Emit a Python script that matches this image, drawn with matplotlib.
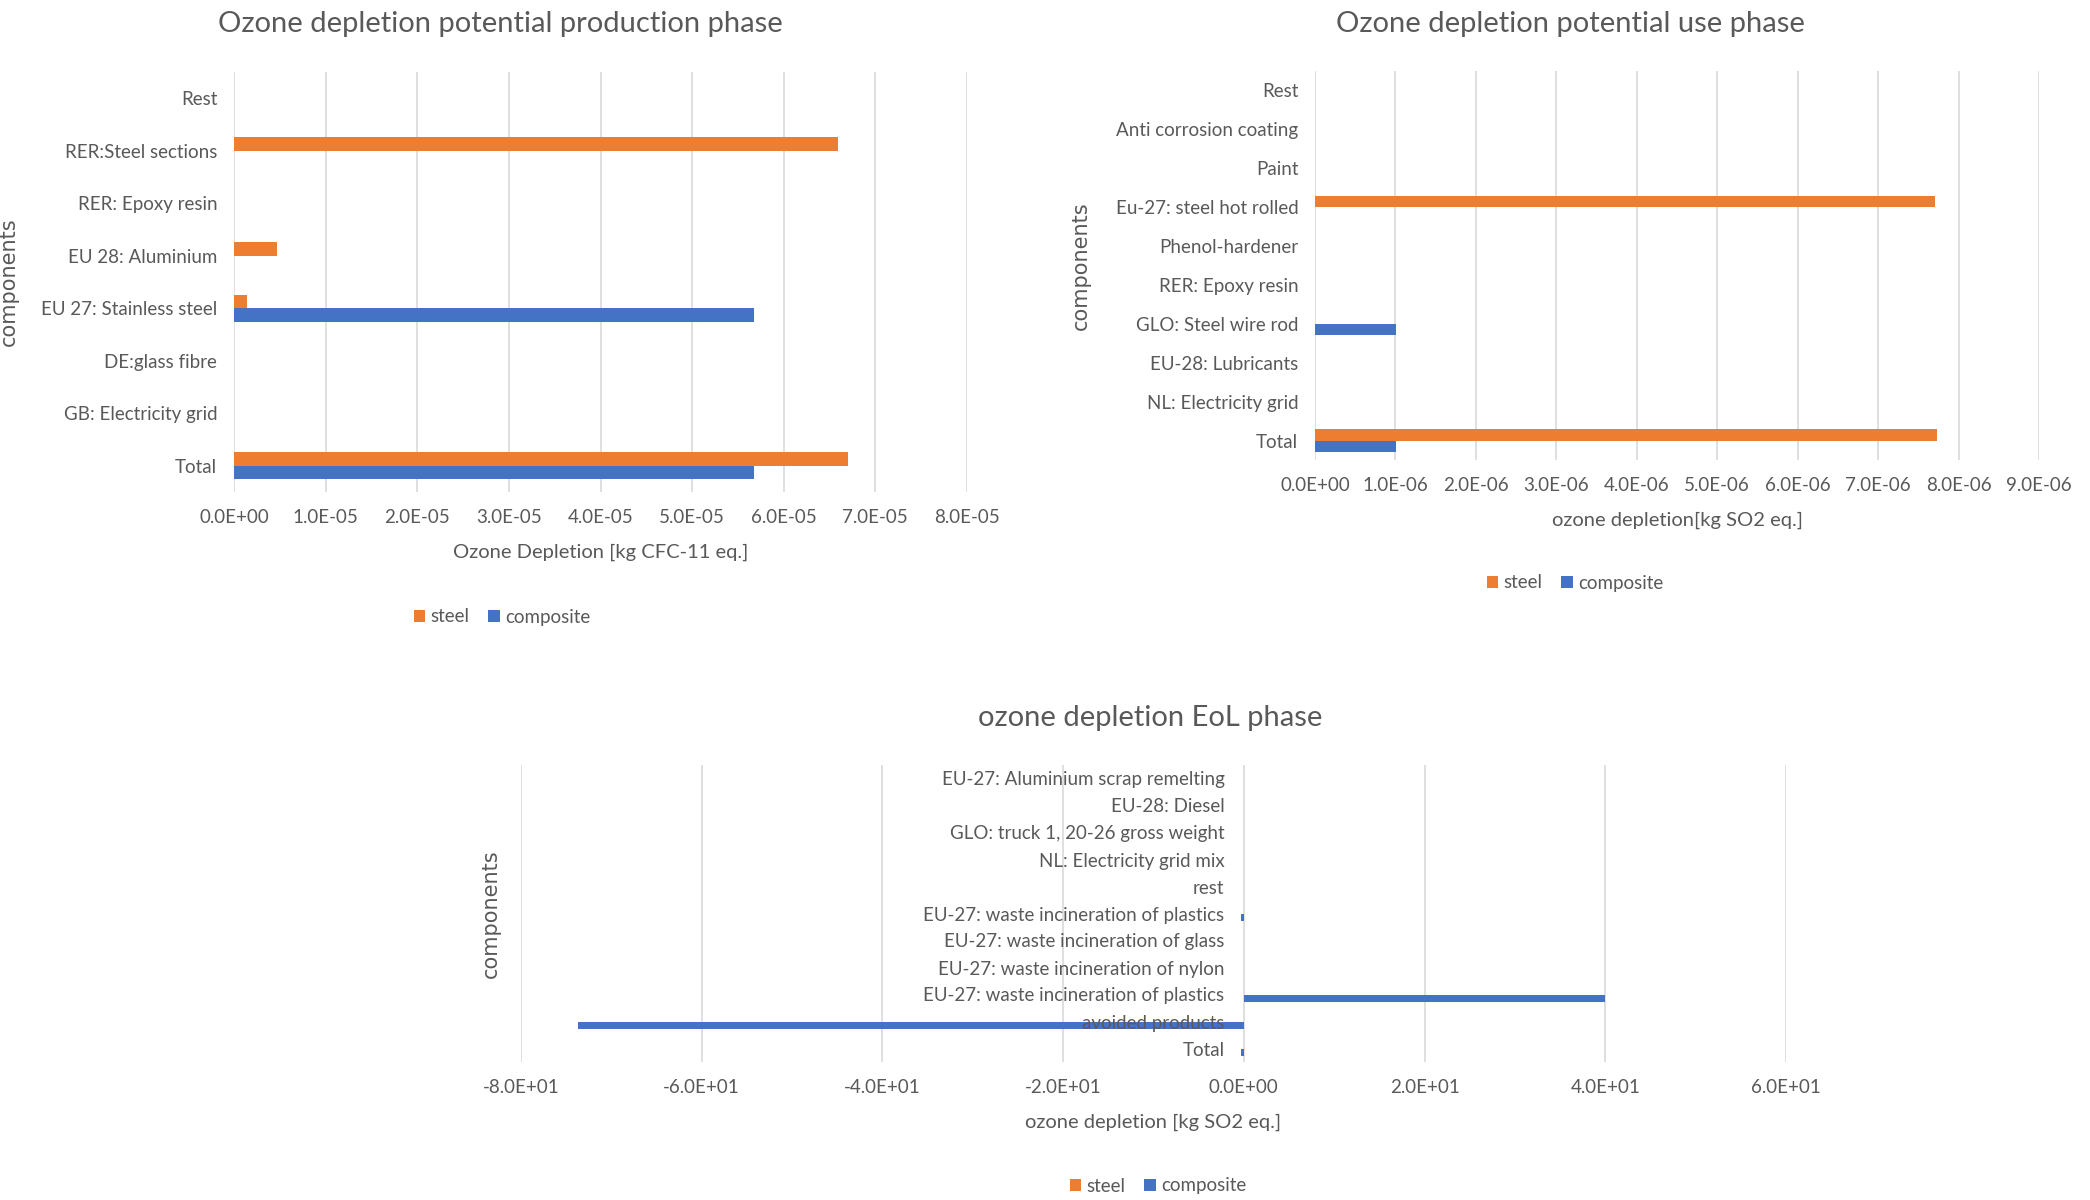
import matplotlib.pyplot as plt
from matplotlib.ticker import FuncFormatter, MultipleLocator

# production phase
prod_categories = ["Total", "GB: Electricity grid", "DE:glass fibre", "EU 27: Stainless steel",
                   "EU 28: Aluminium", "RER: Epoxy resin", "RER:Steel sections", "Rest"]
prod_steel = [6.70e-5, 0, 0, 0.14e-5, 0.47e-5, 0, 6.59e-5, 0]
prod_composite = [5.68e-5, 0, 0, 5.68e-5, 0, 0, 0, 0]

# use phase
use_categories = ["Total", "NL: Electricity grid", "EU-28: Lubricants", "GLO: Steel wire rod",
                  "RER: Epoxy resin", "Phenol-hardener", "Eu-27: steel hot rolled", "Paint",
                  "Anti corrosion coating", "Rest"]
use_steel = [7.73e-6, 0, 0, 0, 0, 0, 7.71e-6, 0, 0, 0]
use_composite = [1.01e-6, 0, 0, 1.01e-6, 0, 0, 0, 0, 0, 0]

# end of life phase
eol_categories = ["Total", "avoided products", "EU-27: waste incineration of plastics",
                  "EU-27: waste incineration of nylon", "EU-27: waste incineration of glass",
                  "EU-27: waste incineration of plastics", "rest", "NL: Electricity grid mix",
                  "GLO: truck 1, 20-26 gross weight", "EU-28: Diesel",
                  "EU-27: Aluminium scrap remelting"]
eol_steel = [0, 0, 0, 0, 0, 0, 0, 0, 0, 0, 0]
eol_composite = [-0.3, -73.7, 40.0, 0, 0, -0.3, 0, 0, 0, 0, 0]

ORANGE = "#ED7D31"
BLUE = "#4472C4"
GREY = "#595959"
GRID = "#D9D9D9"
W, H = 2090, 1200

plt.rcParams["font.family"] = ["Lato", "DejaVu Sans"]

fig = plt.figure(figsize=(W / 100, H / 100), dpi=100)


def px_axes(left, top, right, bottom):
    return fig.add_axes([left / W, 1 - bottom / H, (right - left) / W, (bottom - top) / H])


def sci(v, pos):
    return f"{v:.1E}"


def draw(ax, cats, steel, comp, bar_h, xmin, xmax, step, xlabel, label_x):
    y = list(range(len(cats)))
    # vertical gridlines under the bars, tick labels stay on top
    for gx in range(int(round(xmin / step)), int(round(xmax / step)) + 1):
        ax.axvline(gx * step, color=GRID, linewidth=1.2, zorder=0)
    ax.barh([i + bar_h / 2 for i in y], steel, height=bar_h, color=ORANGE, label="steel", zorder=1)
    ax.barh([i - bar_h / 2 for i in y], comp, height=bar_h, color=BLUE, label="composite", zorder=1)
    ax.set_yticks(y)
    ax.set_yticklabels(cats)
    ax.set_ylim(-0.5, len(cats) - 0.5)
    ax.set_xlim(xmin, xmax)
    ax.xaxis.set_major_locator(MultipleLocator(step))
    ax.xaxis.set_major_formatter(FuncFormatter(sci))
    for s in ax.spines.values():
        s.set_visible(False)
    ax.tick_params(length=0, labelsize=13.5, colors=GREY, pad=12)
    ax.tick_params(axis="x", pad=12)
    ax.set_xlabel(xlabel, fontsize=14.5, color=GREY, labelpad=13)
    ax.set_ylabel("components", fontsize=15, color=GREY, family="DejaVu Sans")
    ax.yaxis.set_label_coords(label_x, 0.5)


def legend(ax, cx, cy):
    ax.legend(loc="center", bbox_to_anchor=(cx / W, 1 - cy / H), bbox_transform=fig.transFigure,
              ncol=2, frameon=False, fontsize=13.5, labelcolor=GREY, handlelength=0.6,
              handleheight=0.6, handletextpad=0.3, columnspacing=1.0)


ax1 = px_axes(234, 72, 967, 492)
draw(ax1, prod_categories, prod_steel, prod_composite, 0.26, 0, 8e-5, 1e-5,
     "Ozone Depletion [kg CFC-11 eq.]", -0.293)
legend(ax1, 502, 617)
fig.text(500 / W, 1 - 24 / H, "Ozone depletion potential production phase", ha="center",
         va="center", fontsize=21, color=GREY)

ax2 = px_axes(1315, 71, 2039, 460)
draw(ax2, use_categories, use_steel, use_composite, 0.29, 0, 9e-6, 1e-6,
     "ozone depletion[kg SO2 eq.]", -0.309)
legend(ax2, 1575, 583)
fig.text(1570 / W, 1 - 24 / H, "Ozone depletion potential use phase", ha="center",
         va="center", fontsize=21, color=GREY)

ax3 = px_axes(521, 765, 1786, 1062)
draw(ax3, eol_categories, eol_steel, eol_composite, 0.26, -80, 60, 20,
     "ozone depletion [kg SO2 eq.]", -0.016)
# category labels sit on the zero line
ax3.spines["left"].set_position(("data", 0))
ax3.tick_params(axis="y", pad=14)
legend(ax3, 1158, 1186)
fig.text(1150 / W, 1 - 718 / H, "ozone depletion EoL phase", ha="center",
         va="center", fontsize=21, color=GREY)

fig.savefig("out.png", dpi=100, facecolor="white")
